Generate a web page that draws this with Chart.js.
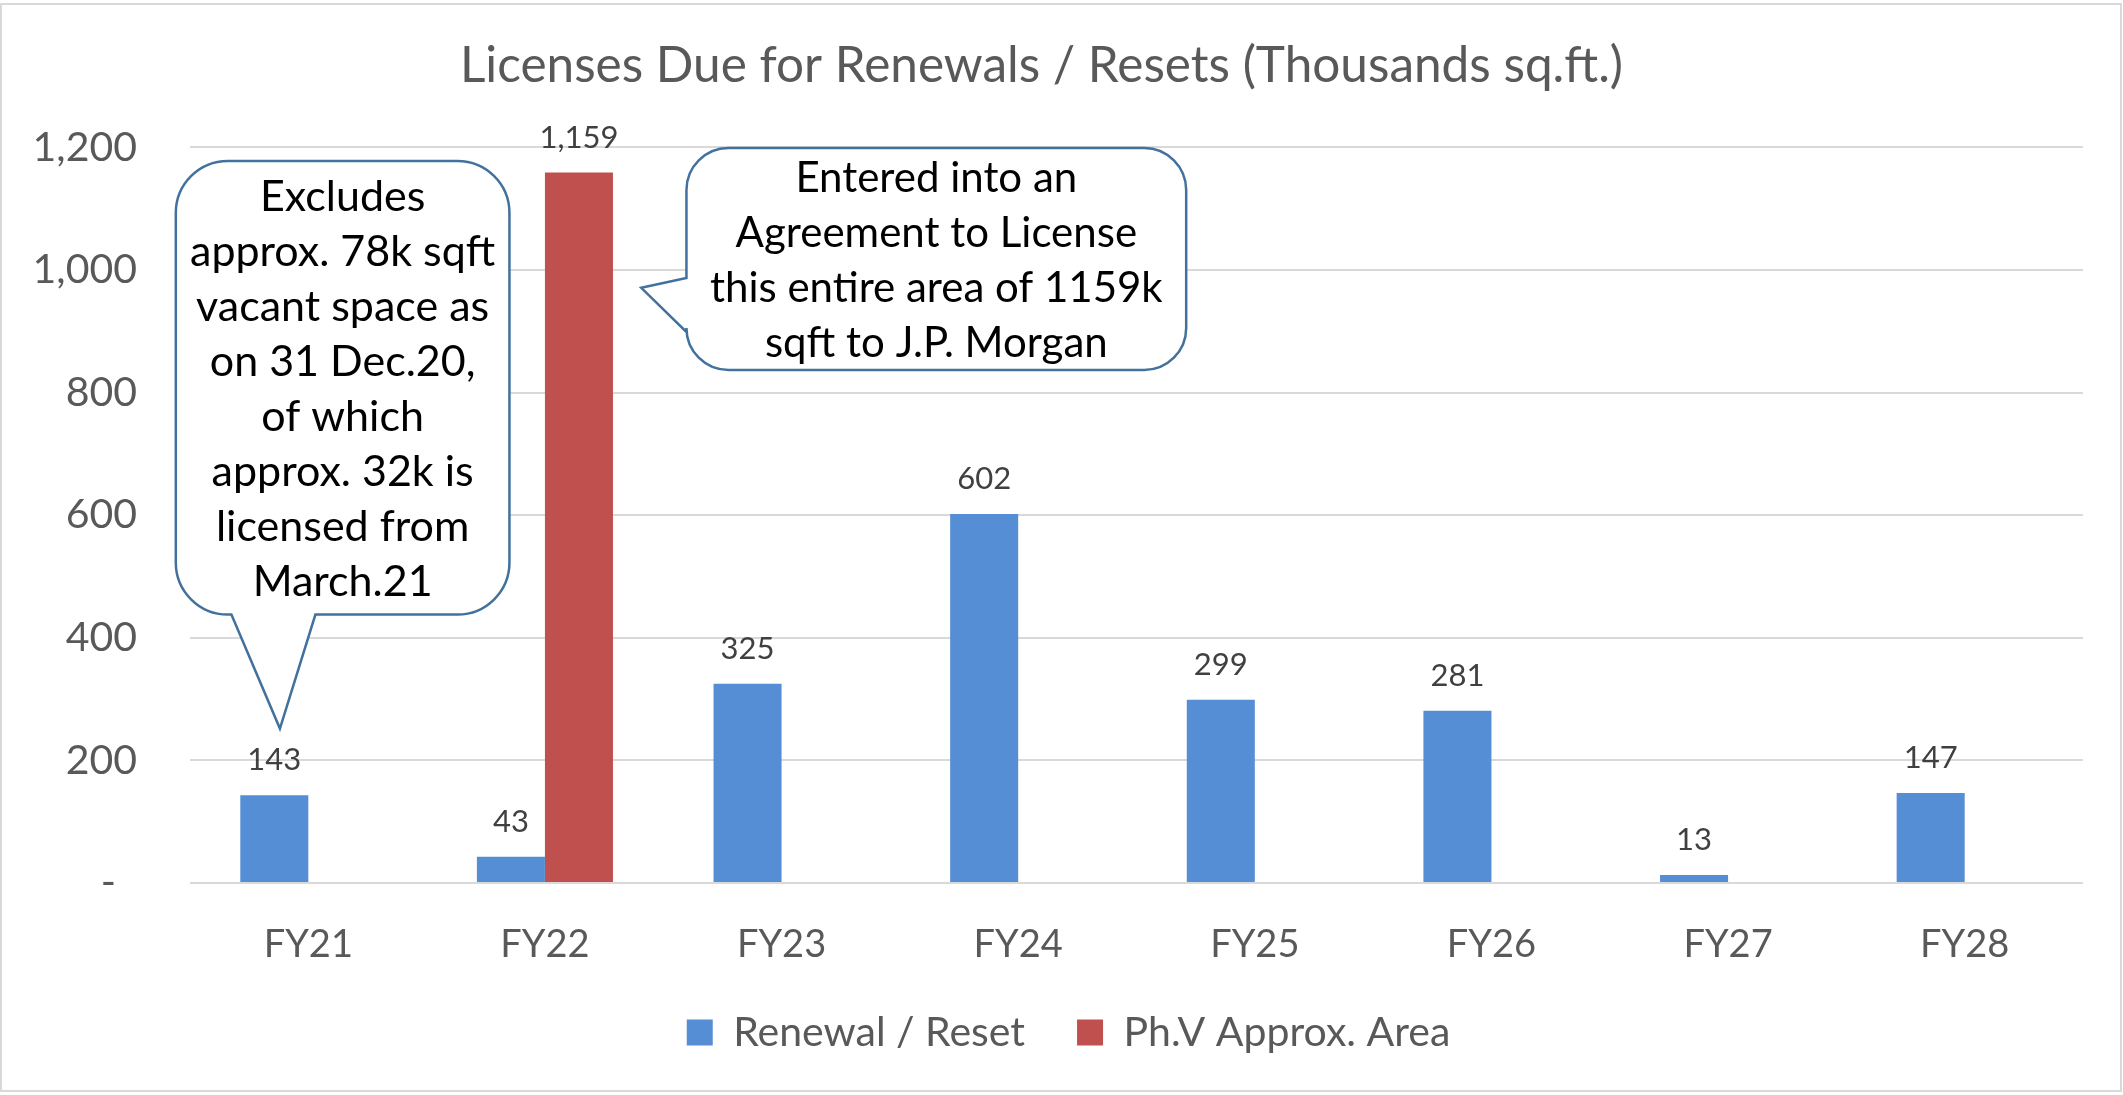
<!DOCTYPE html>
<html>
<head>
<meta charset="utf-8">
<script src="https://cdn.jsdelivr.net/npm/chart.js@4.4.1/dist/chart.umd.min.js"></script>
<style>
  html, body { margin: 0; padding: 0; background: #fff; }
</style>
</head>
<body>
<canvas id="bar-charts" width="2123" height="1095"></canvas>
<script>
const categories = ['FY21', 'FY22', 'FY23', 'FY24', 'FY25', 'FY26', 'FY27', 'FY28'];
const renewalReset = [143, 43, 325, 602, 299, 281, 13, 147];
const phaseVArea = [null, 1159, null, null, null, null, null, null];
const seriesNames = ['Renewal / Reset', 'Ph.V Approx. Area'];
const yMax = 1200;
const yStep = 200;
const titleText = 'Licenses Due for Renewals / Resets (Thousands sq.ft.)';
const noteFY21 = ['Excludes', 'approx. 78k sqft', 'vacant space as', 'on 31 Dec.20,', 'of which', 'approx. 32k is', 'licensed from', 'March.21'];
const noteFY22 = ['Entered into an', 'Agreement to License', 'this entire area of 1159k', 'sqft to J.P. Morgan'];

const fontFace = 'Lato, "Open Sans", sans-serif';
const grey = '#595959';

// white page with the thin grey frame
const frame = {
  id: 'frame',
  beforeDraw(chart) {
    const ctx = chart.ctx;
    ctx.save();
    ctx.fillStyle = '#fff';
    ctx.fillRect(0, 0, chart.width, chart.height);
    ctx.strokeStyle = '#d9d9d9';
    ctx.lineWidth = 2;
    ctx.strokeRect(1, 4, chart.width - 3, chart.height - 8);
    ctx.restore();
  }
};

// legend sits a little right of the page centre in the original
const legendNudge = {
  id: 'legendNudge',
  afterLayout(chart) {
    chart.legend.left += 27;
    chart.legend.right += 27;
  }
};

// value labels above the bars
const barLabels = {
  id: 'barLabels',
  afterDatasetsDraw(chart) {
    const ctx = chart.ctx;
    ctx.save();
    ctx.font = '31px ' + fontFace;
    ctx.fillStyle = '#404040';
    ctx.textAlign = 'center';
    ctx.textBaseline = 'alphabetic';
    chart.data.datasets.forEach((ds, i) => {
      chart.getDatasetMeta(i).data.forEach((bar, j) => {
        const v = ds.data[j];
        if (v == null) return;
        ctx.fillText(v.toLocaleString('en-US'), bar.x, bar.y - 25);
      });
    });
    ctx.restore();
  }
};

function calloutPath(ctx, l, t, r, b, rad, tail) {
  ctx.beginPath();
  ctx.moveTo(l + rad, t);
  ctx.arcTo(r, t, r, b, rad);
  ctx.arcTo(r, b, l, b, rad);
  if (tail.side === 'bottom') {
    ctx.lineTo(tail.a, b);
    ctx.lineTo(tail.tx, tail.ty);
    ctx.lineTo(tail.b, b);
  }
  ctx.arcTo(l, b, l, t, rad);
  if (tail.side === 'left') {
    ctx.lineTo(l, tail.b);
    ctx.lineTo(tail.tx, tail.ty);
    ctx.lineTo(l, tail.a);
  }
  ctx.arcTo(l, t, r, t, rad);
  ctx.closePath();
}

// the two speech bubbles, placed in category / value units
const callouts = {
  id: 'callouts',
  afterDatasetsDraw(chart) {
    const {ctx, scales: {x, y}} = chart;
    const step = x.getPixelForValue(1) - x.getPixelForValue(0);
    const px = v => x.getPixelForValue(0) + v * step;
    const py = v => y.getPixelForValue(v);
    ctx.save();
    ctx.lineWidth = 2.5;
    ctx.strokeStyle = '#41719c';
    ctx.fillStyle = '#fff';

    const b1 = {l: px(-0.56), t: py(1178), r: px(0.85), b: py(438)};
    calloutPath(ctx, b1.l, b1.t, b1.r, b1.b, 52,
      {side: 'bottom', a: px(0.03), b: px(-0.325), tx: px(-0.12), ty: py(252)});
    ctx.fill(); ctx.stroke();

    const b2 = {l: px(1.598), t: py(1199), r: px(3.71), b: py(837)};
    calloutPath(ctx, b2.l, b2.t, b2.r, b2.b, 42,
      {side: 'left', a: py(987), b: py(899), tx: px(1.407), ty: py(971)});
    ctx.fill(); ctx.stroke();

    ctx.fillStyle = '#000';
    ctx.textAlign = 'center';
    ctx.textBaseline = 'alphabetic';
    ctx.font = '43px ' + fontFace;
    noteFY21.forEach((line, i) => ctx.fillText(line, (b1.l + b1.r) / 2, b1.t + 50 + i * 55));
    ctx.font = '42px ' + fontFace;
    noteFY22.forEach((line, i) => ctx.fillText(line, (b2.l + b2.r) / 2, b2.t + 44 + i * 55));
    ctx.restore();
  }
};

const ctx = document.getElementById('bar-charts').getContext('2d');
window.myBar = new Chart(ctx, {
  type: 'bar',
  data: {
    labels: categories,
    datasets: [
      { label: seriesNames[0], data: renewalReset, backgroundColor: '#558ed5' },
      { label: seriesNames[1], data: phaseVArea, backgroundColor: '#c0504d' }
    ]
  },
  options: {
    responsive: false,
    animation: false,
    devicePixelRatio: 1,
    categoryPercentage: 0.575,
    barPercentage: 1,
    layout: { padding: { left: 0, right: 40, top: 0, bottom: 32 } },
    plugins: {
      title: {
        display: true,
        text: titleText,
        color: grey,
        font: { family: fontFace, size: 49.5, weight: 'normal' },
        padding: { top: 36, bottom: 52 }
      },
      legend: {
        position: 'bottom',
        labels: {
          color: grey,
          font: { family: fontFace, size: 41 },
          boxWidth: 26,
          boxHeight: 26,
          padding: 52
        }
      },
      tooltip: { enabled: false }
    },
    scales: {
      x: {
        grid: { display: false },
        border: { display: false },
        ticks: { color: grey, font: { family: fontFace, size: 38 }, padding: 31, maxRotation: 0 },
        afterFit(scale) { scale.height = 77; }
      },
      y: {
        min: 0,
        max: yMax,
        grid: { color: '#d9d9d9', lineWidth: 2, drawTicks: false },
        border: { display: false },
        ticks: {
          stepSize: yStep,
          color: grey,
          padding: 53,
          font: { family: fontFace, size: 41 },
          callback: v => v === 0 ? '-  ' : v.toLocaleString('en-US')
        },
        afterFit(scale) { scale.width = 190; }
      }
    }
  },
  plugins: [frame, legendNudge, barLabels, callouts]
});
</script>
</body>
</html>
